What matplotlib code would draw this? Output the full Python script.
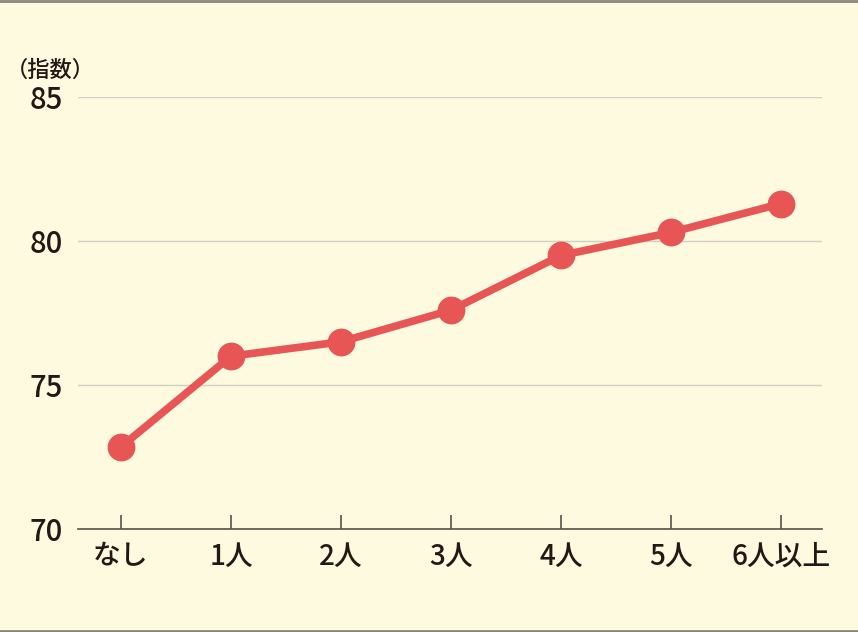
import matplotlib
matplotlib.use("Agg")
from matplotlib import pyplot as plt
from matplotlib.lines import Line2D

plt.rcParams['font.family'] = ['Noto Sans CJK JP', 'DejaVu Sans']

# データ
categories = ['なし', '1人', '2人', '3人', '4人', '5人', '6人以上']
values = [72.85, 76.0, 76.5, 77.6, 79.5, 80.3, 81.3]
yticks = [70, 75, 80, 85]

bg = '#FEFADF'
red = '#E85555'
ink = '#231815'

fig = plt.figure(figsize=(8.58, 6.32), dpi=100, facecolor=bg)
ax = fig.add_axes([78/858, 1 - 529/632, (822 - 78)/858, (529 - 97)/632])
ax.set_facecolor(bg)

x = range(len(categories))
ax.plot(x, values, color=red, lw=5.5, marker='o', ms=19, zorder=3,
        solid_capstyle='round')

ax.set_xlim(-0.39, 6.37)
ax.set_ylim(70, 85)
ax.set_yticks(yticks)
ax.set_xticks(list(x))
ax.set_xticklabels(categories, fontsize=20, color=ink, fontweight='medium')
ax.set_yticklabels([str(v) for v in yticks], fontsize=21, color=ink,
                   fontweight='medium')
ax.yaxis.grid(True, color='#cfcfc4', lw=1)
ax.set_axisbelow(True)

for s in ['top', 'right', 'left']:
    ax.spines[s].set_visible(False)
ax.spines['bottom'].set_color('#55524c')
ax.spines['bottom'].set_linewidth(1.2)
ax.tick_params(axis='y', length=0, pad=11)
ax.tick_params(axis='x', direction='in', length=10, width=1.2,
               color='#55524c', pad=9)

fig.text(6/858, 1 - 70/632, '（指数）', fontsize=16, color=ink,
         va='center', ha='left', fontweight='medium')

# 上下の枠線
for yy in (0.0015, 0.9985):
    fig.lines.append(Line2D([0, 1], [yy, yy], transform=fig.transFigure,
                            color='#8a877a', lw=2))

fig.savefig('out.png', dpi=100, facecolor=bg)
